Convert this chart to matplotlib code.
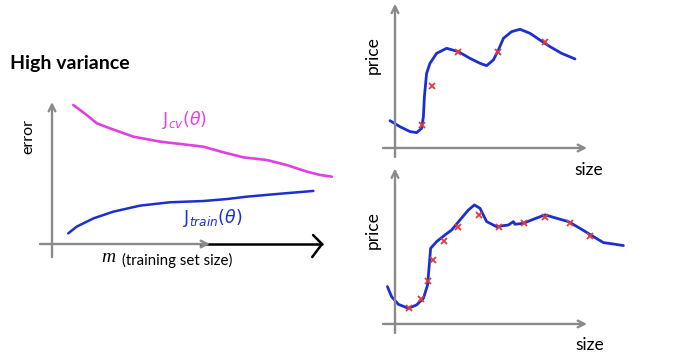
import matplotlib
matplotlib.use("Agg")
import matplotlib.pyplot as plt

# ---------------- data ----------------
# Left panel: learning curves (x = training set size, y = error)
cv_m = [0.76, 1.24, 1.60, 2.07, 2.90, 3.86, 4.69, 5.40, 6.12, 6.83, 7.67, 8.38, 9.10, 9.57, 9.99]
cv_err = [9.93, 9.21, 8.62, 8.26, 7.67, 7.31, 7.12, 6.95, 6.55, 6.19, 6.0, 5.64, 5.17, 4.93, 4.81]
tr_m = [0.58, 0.88, 1.48, 2.19, 3.14, 4.21, 5.40, 6.24, 6.95, 8.02, 9.33]
tr_err = [0.76, 1.24, 1.83, 2.31, 2.74, 2.98, 3.07, 3.21, 3.38, 3.57, 3.79]

# Top-right panel: overfit curve through 5 points
top_size = [-0.25, 0.25, 0.75, 1.08, 1.33, 1.42, 1.47, 1.58, 1.75, 2.08, 2.58, 3.17, 3.75,
            4.25, 4.58, 4.92, 5.17, 5.42, 5.83, 6.25, 6.75, 7.25, 7.75, 8.33, 9.0]
top_price = [1.95, 1.52, 1.17, 1.10, 1.40, 2.24, 3.67, 5.33, 6.05, 6.76, 7.12, 6.88, 6.40,
             6.05, 5.88, 6.29, 7.0, 7.83, 8.31, 8.48, 8.19, 7.71, 7.24, 6.76, 6.36]
top_pts_size = [1.33, 1.87, 3.17, 5.17, 7.5]
top_pts_price = [1.64, 4.45, 6.83, 6.88, 7.55]

# Bottom-right panel: overfit curve through 12 points
bot_size = [-0.38, -0.17, 0.17, 0.67, 1.08, 1.42, 1.63, 1.72, 1.78, 2.08, 2.5, 2.83, 3.25,
            3.67, 3.97, 4.25, 4.58, 5.08, 5.67, 5.92, 6.0, 6.42, 6.92, 7.5, 8.08, 8.67, 9.25,
            9.92, 10.42, 10.92, 11.42]
bot_price = [2.67, 1.95, 1.40, 1.12, 1.36, 1.83, 2.79, 4.33, 5.40, 5.88, 6.36, 6.71, 7.43,
             8.14, 8.5, 8.26, 7.31, 6.95, 7.07, 7.31, 7.12, 7.19, 7.48, 7.79, 7.55, 7.31, 6.83,
             6.24, 5.81, 5.71, 5.60]
bot_pts_size = [0.7, 1.3, 1.67, 1.88, 2.47, 3.17, 4.2, 5.2, 6.47, 7.5, 8.75, 9.75]
bot_pts_price = [1.12, 1.79, 3.10, 4.57, 5.95, 6.95, 7.79, 6.95, 7.24, 7.67, 7.19, 6.29]

# ---------------- styling ----------------
W, H = 676, 357
fig = plt.figure(figsize=(W / 100, H / 100), dpi=100)
fig.patch.set_facecolor("white")

AX_GRAY = "#8a8a8a"
BLUE = "#1c2fd0"
MAGENTA = "#e040e0"
RED = "#e03a3a"


def add_axes_px(x0, y0, x1, y1):
    return fig.add_axes([x0 / W, 1 - y1 / H, (x1 - x0) / W, (y1 - y0) / H])


def arrow(ax, x0, y0, x1, y1, color=AX_GRAY, lw=1.7, ms=12):
    ax.annotate("", xy=(x1, y1), xytext=(x0, y0),
                arrowprops=dict(arrowstyle="->", color=color, lw=lw,
                                mutation_scale=ms, shrinkA=0, shrinkB=0))


line_kw = dict(solid_capstyle="round", solid_joinstyle="round")

# ---- left panel ----
axL = add_axes_px(0, 90, 345, 270)
axL.set_xlim(-1.857, 10.46)
axL.set_ylim(-1.857, 11.0)
axL.axis("off")
arrow(axL, 0, -0.93, 0, 10.14)
arrow(axL, -0.43, 0, 5.64, 0)
axL.plot([5.29, 9.64], [0, 0], color="black", lw=1.8, **line_kw)
axL.plot([9.32, 9.64, 9.29], [0.64, 0, -0.93], color="black", lw=1.8, **line_kw)
axL.plot(cv_m, cv_err, color=MAGENTA, lw=1.9, **line_kw)
axL.plot(tr_m, tr_err, color=BLUE, lw=1.8, **line_kw)

fig.text(10 / W, 1 - 63 / H, "High variance", fontsize=14, fontweight="bold",
         family="Lato", va="center", ha="left")
fig.text(28 / W, 1 - 137 / H, "error", fontsize=11.5, rotation=90, family="Lato",
         va="center", ha="center")
fig.text(101 / W, 1 - 257 / H, "m", fontsize=14, style="italic", family="Liberation Serif",
         va="center", ha="left")
fig.text(122 / W, 1 - 260 / H, "(training set size)", fontsize=10.8, family="Lato",
         va="center", ha="left")
fig.text(162 / W, 1 - 120 / H, r"$\mathrm{J}_{cv}(\theta)$", fontsize=12.5, color=MAGENTA,
         va="center", ha="left")
fig.text(183 / W, 1 - 218 / H, r"$\mathrm{J}_{train}(\theta)$", fontsize=12.5, color=BLUE,
         va="center", ha="left")

# ---- top right panel ----
axT = add_axes_px(370, 0, 680, 175)
axT.set_xlim(-1.25, 14.25)
axT.set_ylim(-1.93, 10.57)
axT.axis("off")
arrow(axT, 0, -0.64, 0, 10.3)
arrow(axT, -0.6, 0, 9.6, 0)
axT.plot(top_size, top_price, color=BLUE, lw=2.0, **line_kw)
axT.plot(top_pts_size, top_pts_price, ls="none", marker="x", color=RED, ms=5, mew=1.3)
fig.text(373 / W, 1 - 55 / H, "price", fontsize=12.5, rotation=90, family="Lato",
         va="center", ha="center")
fig.text(589 / W, 1 - 170 / H, "size", fontsize=12.5, family="Lato", va="center", ha="center")

# ---- bottom right panel ----
axB = add_axes_px(370, 160, 680, 357)
axB.set_xlim(-1.25, 14.25)
axB.set_ylim(-2.36, 11.71)
axB.axis("off")
arrow(axB, 0, -0.64, 0, 11.1)
arrow(axB, -0.6, 0, 9.6, 0)
axB.plot(bot_size, bot_price, color=BLUE, lw=2.0, **line_kw)
axB.plot(bot_pts_size, bot_pts_price, ls="none", marker="x", color=RED, ms=5, mew=1.3)
fig.text(373 / W, 1 - 230 / H, "price", fontsize=12.5, rotation=90, family="Lato",
         va="center", ha="center")
fig.text(590 / W, 1 - 345 / H, "size", fontsize=12.5, family="Lato", va="center", ha="center")

fig.savefig("out.png", dpi=100, facecolor="white")
